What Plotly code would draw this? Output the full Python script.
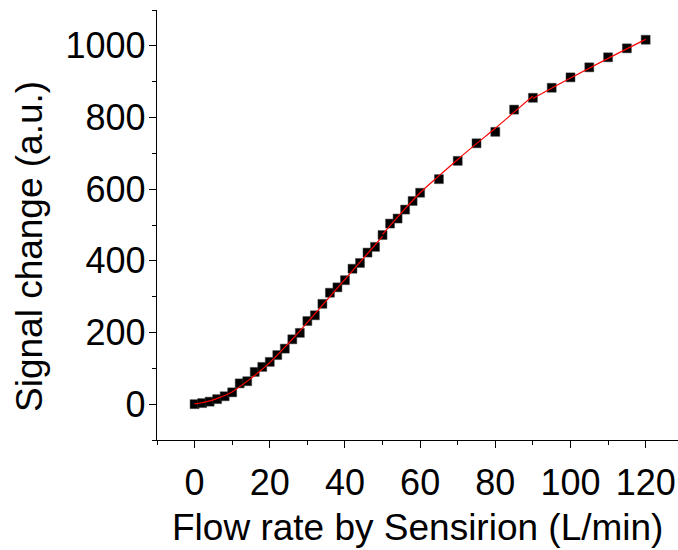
import plotly.graph_objects as go

# Measured data (flow rate L/min, signal change a.u.)
flow = [0, 2, 4, 6, 8, 10, 12, 14, 16, 18, 20, 22, 24, 26, 28, 30, 32, 34, 36, 38,
        40, 42, 44, 46, 48, 50, 52, 54, 56, 58, 60, 65, 70, 75, 80, 85, 90, 95,
        100, 105, 110, 115, 120]
signal = [0, 3, 7, 14, 22, 33, 58, 64, 90, 104, 118, 137, 155, 181, 199, 232, 248,
          280, 311, 326, 346, 378, 394, 423, 439, 472, 504, 518, 543, 567, 590, 628,
          679, 728, 760, 822, 855, 883, 912, 940, 968, 993, 1017]

# Piecewise fit curve (red)
fit1_x = [0, 2, 4, 6, 8, 10]
fit1_y = [1, 4, 9, 16, 24, 34]
fit2_x = [10, 15, 20, 25, 30, 35, 40, 45, 50]
fit2_y = [34, 72, 116, 170, 228, 288, 348, 408, 468]
fit3_x = [50, 55, 60, 65, 70, 75, 80, 85, 90]
fit3_y = [474, 534, 590, 637, 683, 727, 770, 815, 860]
fit4_x = [90, 100, 110, 120]
fit4_y = [853, 910, 965, 1018]

x_ticks = [0, 20, 40, 60, 80, 100, 120]
y_ticks = [0, 200, 400, 600, 800, 1000]

FONT = "Liberation Sans, Arial, sans-serif"

fig = go.Figure()
fig.add_trace(go.Scatter(
    x=flow, y=signal, mode="markers",
    marker=dict(symbol="square", size=9, color="black",
                line=dict(color="#444", width=0.5)),
    showlegend=False, cliponaxis=False))
for fx, fy in [(fit1_x, fit1_y), (fit2_x, fit2_y), (fit3_x, fit3_y), (fit4_x, fit4_y)]:
    fig.add_trace(go.Scatter(
        x=fx, y=fy, mode="lines", line=dict(color="red", width=1.2, shape="spline"),
        showlegend=False))

axis_common = dict(
    showline=True, linecolor="black", linewidth=1.3, mirror=False,
    showgrid=False, zeroline=False,
    ticks="outside", ticklen=7, tickwidth=1.3, tickcolor="black",
    tickfont=dict(family=FONT, size=36, color="black"),
)

L, R, T, B = 157, 0, 10, 110
W, H = 678, 550
pw, ph = W - L - R, H - T - B


def px_to_paper(xp, yp):
    return (xp - L) / pw, ((H - yp) - B) / ph


xt_x, xt_y = px_to_paper(417, 527)
yt_x, yt_y = px_to_paper(30, 247)

fig.update_layout(
    width=W, height=H,
    margin=dict(l=L, r=R, t=T, b=B),
    paper_bgcolor="white", plot_bgcolor="white",
    xaxis=dict(range=[-10, 128.6], tickvals=x_ticks, ticklabelstandoff=4,
               minor=dict(dtick=10, tick0=0, ticks="outside", ticklen=4,
                          tickwidth=1.3, tickcolor="black", showgrid=False),
               **axis_common),
    yaxis=dict(range=[-100, 1100], tickvals=y_ticks, ticklabelstandoff=-4,
               minor=dict(dtick=100, tick0=0, ticks="outside", ticklen=4,
                          tickwidth=1.3, tickcolor="black", showgrid=False),
               **axis_common),
    annotations=[
        dict(text="Flow rate by Sensirion (L/min)", x=xt_x, y=xt_y,
             xref="paper", yref="paper", showarrow=False,
             xanchor="center", yanchor="middle",
             font=dict(family=FONT, size=37, color="black")),
        dict(text="Signal change (a.u.)", x=yt_x, y=yt_y, textangle=-90,
             xref="paper", yref="paper", showarrow=False,
             xanchor="center", yanchor="middle",
             font=dict(family=FONT, size=37, color="black")),
    ],
)

fig.write_html("out.html", config={"displayModeBar": False},
               post_script="document.body.style.margin='0';document.body.style.overflow='hidden';")
